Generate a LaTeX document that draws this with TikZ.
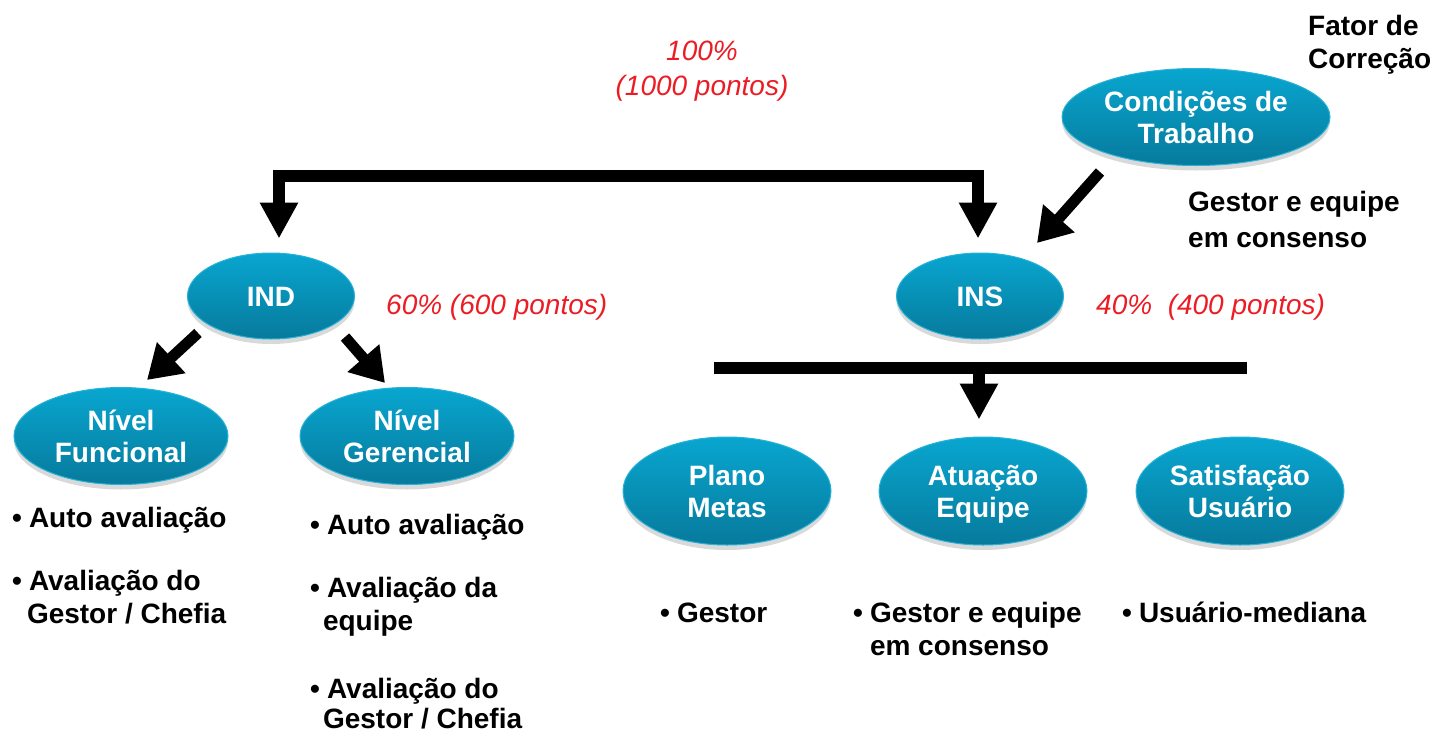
\documentclass[tikz,border=0pt]{standalone}
\usepackage{fontspec}
\setmainfont{Liberation Sans}
\usetikzlibrary{shapes.geometric,arrows.meta,shadows}
\definecolor{ovtop}{RGB}{8,166,208}
\definecolor{ovbot}{RGB}{7,122,156}
\definecolor{ovrim}{RGB}{40,178,215}
\definecolor{pct}{RGB}{235,28,36}
\newcommand\ostrut{\rule[-6pt]{0pt}{32pt}}
\begin{document}
\begin{tikzpicture}[x=1pt,y=-1pt,
  oval/.style={ellipse, top color=ovtop, bottom color=ovbot, draw=ovrim, line width=1pt,
    text=white, font=\bfseries\fontsize{28}{32}\selectfont, align=center, inner sep=0pt,
    drop shadow={shadow xshift=0pt, shadow yshift=-5pt, opacity=0.3}},
  lbl/.style={font=\bfseries\fontsize{28}{33}\selectfont, align=left, inner sep=0pt, anchor=base west},
  pcttxt/.style={font=\itshape\fontsize{28}{35}\selectfont, text=pct, inner sep=0pt},
  fat/.style={line width=12pt, draw=black, line join=miter},
  mid/.style={line width=11pt, draw=black},
  Big/.tip={Triangle[length=36pt,width=36pt]},
  Med/.tip={Triangle[length=33pt,width=40pt]}]
\useasboundingbox (0,0) rectangle (1430,731);

% ellipses
\node[oval, minimum width=167pt, minimum height=86pt] (IND) at (271,296) {\ostrut IND};
\node[oval, minimum width=167pt, minimum height=86pt] (INS) at (980,296) {\ostrut INS};
\node[oval, minimum width=268pt, minimum height=97pt] (Cond) at (1196,117) {\ostrut Condições de\\\ostrut Trabalho};
\node[oval, minimum width=214pt, minimum height=97pt] (Func) at (121,436) {\ostrut Nível\\\ostrut Funcional};
\node[oval, minimum width=214pt, minimum height=97pt] (Ger) at (407,436) {\ostrut Nível\\\ostrut Gerencial};
\node[oval, minimum width=208pt, minimum height=108pt] (Plano) at (727,491) {\ostrut Plano\\\ostrut Metas};
\node[oval, minimum width=208pt, minimum height=108pt] (Atu) at (983,491) {\ostrut Atuação\\\ostrut Equipe};
\node[oval, minimum width=208pt, minimum height=108pt] (Sat) at (1240,491) {\ostrut Satisfação\\\ostrut Usuário};

% top connector
\coordinate (topL) at (279,175.5);
\coordinate (topR) at (978,175.5);
\draw[fat, Big-Big, shorten <=14pt, shorten >=14pt]
  (topL |- IND.north) -- (topL) -- (topR) -- (topR |- INS.north);

% INS bar
\coordinate (barL) at (714,367.5);
\coordinate (barR) at (1247,367.5);
\coordinate (barM) at (979,367.5);
\draw[fat] (barL) -- (barR);
\draw[fat, -Big, shorten >=17pt] (barM) -- (barM |- Atu.north);

% diagonal arrows
\coordinate (condT) at (1100,172);
\coordinate (condH) at (1037,243);
\draw[mid, -Med] (condT) -- (condH);
\coordinate (indLT) at (198,333);
\coordinate (indLH) at (147,380);
\draw[mid, -Med] (indLT) -- (indLH);
\coordinate (indRT) at (345,337);
\coordinate (indRH) at (385,383);
\draw[mid, -Med] (indRT) -- (indRH);

% percentages
\node[pcttxt, align=center] (tot) at (702,71) {100\%\\(1000 pontos)};
\node[pcttxt, anchor=base west] (p60) at (386,314) {60\% (600 pontos)};
\node[pcttxt, anchor=base west] (p40) at (1096,314) {40\%\ \ (400 pontos)};

% labels
\node[lbl] (fator) at (1308,35) {\begin{tabular}[t]{@{}l@{}}Fator de\\Correção\end{tabular}};
\node[lbl, font=\bfseries\fontsize{28}{36}\selectfont] (cons) at (1188,211) {\begin{tabular}[t]{@{}l@{}}Gestor e equipe\\em consenso\end{tabular}};

\node[lbl] (f1) at (12,527) {\begin{tabular}[t]{@{}l@{\hspace{7pt}}l@{}}•&Auto avaliação\end{tabular}};
\node[lbl] (f2) at (12,590) {\begin{tabular}[t]{@{}l@{\hspace{7pt}}l@{}}•&Avaliação do\\&\hspace{-2pt}Gestor / Chefia\end{tabular}};

\node[lbl] (g1) at (310,534) {\begin{tabular}[t]{@{}l@{\hspace{7pt}}l@{}}•&Auto avaliação\end{tabular}};
\node[lbl] (g2) at (310,597) {\begin{tabular}[t]{@{}l@{\hspace{7pt}}l@{}}•&Avaliação da\\&\hspace{-4pt}equipe\end{tabular}};
\node[lbl, font=\bfseries\fontsize{28}{30}\selectfont] (g3) at (310,698) {\begin{tabular}[t]{@{}l@{\hspace{7pt}}l@{}}•&Avaliação do\\&\hspace{-4pt}Gestor / Chefia\end{tabular}};

\node[lbl] (b1) at (660,622) {\begin{tabular}[t]{@{}l@{\hspace{7pt}}l@{}}•&Gestor\end{tabular}};
\node[lbl] (b2) at (853,622) {\begin{tabular}[t]{@{}l@{\hspace{7pt}}l@{}}•&Gestor e equipe\\&em consenso\end{tabular}};
\node[lbl] (b3) at (1122,622) {\begin{tabular}[t]{@{}l@{\hspace{7pt}}l@{}}•&Usuário-mediana\end{tabular}};
\end{tikzpicture}
\end{document}
